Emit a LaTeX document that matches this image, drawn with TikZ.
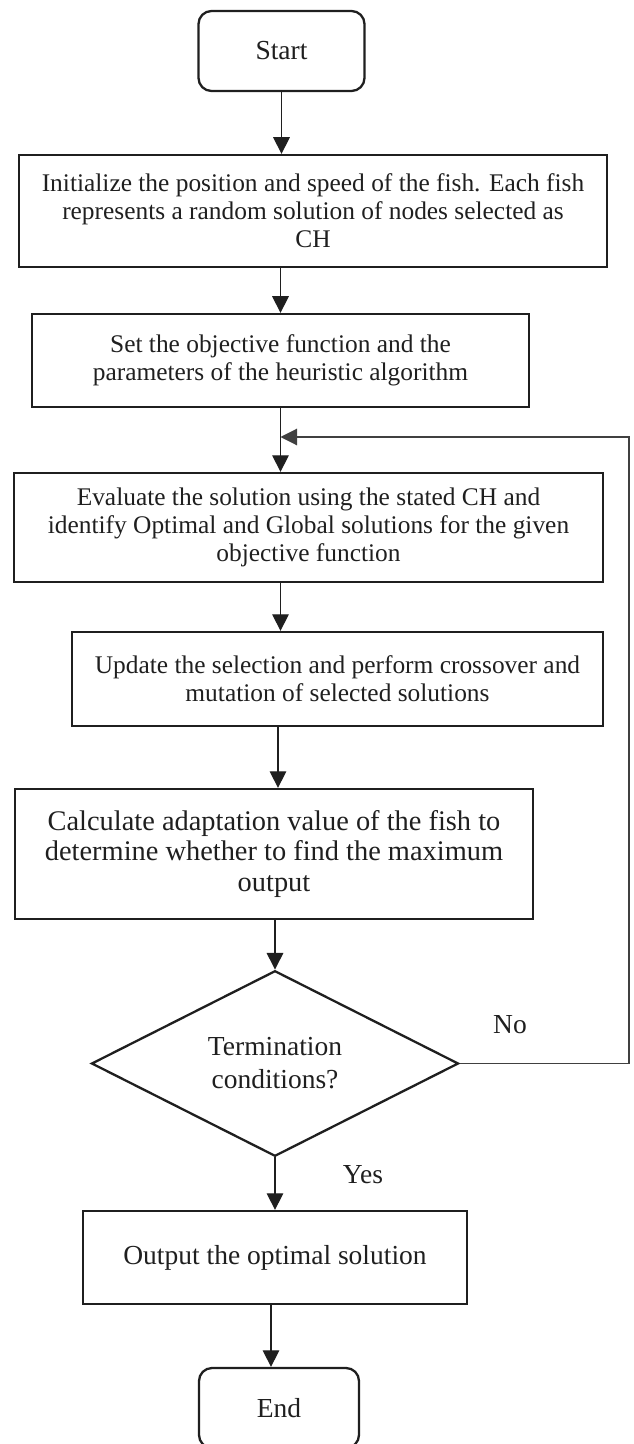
\documentclass[tikz,border=0pt]{standalone}
\usepackage{fontspec}
\setmainfont{Liberation Serif}
\usetikzlibrary{arrows.meta,shapes.geometric}
\begin{document}
\begin{tikzpicture}[x=0.5pt,y=-0.5pt,
  box/.style={draw=black!88, line width=1.15pt, align=center, inner sep=0pt, text=black!88},
  term/.style={box, rounded corners=6.5pt},
  arr/.style={draw=black!88, line width=0.65pt, -{Triangle[length=8.3pt,width=8.3pt]}},
  fbline/.style={draw=black!75, line width=0.55pt},
  sfont/.style={font=\fontsize{12.7}{14}\selectfont},
  bfont/.style={font=\fontsize{13.75}{15}\selectfont},
  lbl/.style={text=black!88, inner sep=0pt, font=\fontsize{13.75}{15}\selectfont},
]
\useasboundingbox (0,0) rectangle (633,1444);

\node[term,bfont,minimum width=83pt,minimum height=40pt] (start) at (281.5,51) {Start};

\node[box,sfont,minimum width=294pt,minimum height=56pt] (init) at (313,211)
  {Initialize the position and speed of the fish. Each fish\\represents a random solution of nodes selected as\\CH};

\node[box,sfont,minimum width=248.5pt,minimum height=46.5pt] (setobj) at (280.5,360.5)
  {Set the objective function and the\\parameters of the heuristic algorithm};

\node[box,sfont,minimum width=294.5pt,minimum height=54.5pt] (eval) at (308.5,527.5)
  {Evaluate the solution using the stated CH and\\identify Optimal and Global solutions for the given\\objective function};

\node[box,sfont,minimum width=265.5pt,minimum height=47pt] (upd) at (337.5,679)
  {Update the selection and perform crossover and\\mutation of selected solutions};

\node[box,font=\fontsize{14.2}{15.2}\selectfont,minimum width=259pt,minimum height=65pt] (calc) at (274,854)
  {Calculate adaptation value of the fish to\\determine whether to find the maximum\\output};

\node[box,shape=diamond,font=\fontsize{13.75}{16.5}\selectfont,minimum width=183.5pt,minimum height=83.5pt] (dia) at (275,1063.5)
  {Termination\\conditions?};

\node[box,bfont,minimum width=192pt,minimum height=46.5pt] (out) at (275,1257.5)
  {Output the optimal solution};

\node[term,bfont,minimum width=80pt,minimum height=40pt] (end) at (279,1408) {End};

\node[lbl] (no) at (510,1025) {No};
\node[lbl] (yes) at (363,1175) {Yes};

\coordinate (fb) at (629,437);
\coordinate (join) at (280.5,437);

\draw[arr] (start) -- (start |- init.north);
\draw[arr] (setobj.north |- init.south) -- (setobj);
\draw[arr] (setobj) -- (setobj |- eval.north);
\draw[fbline, -{Triangle[length=8.3pt,width=8.3pt]}] (dia.east) -- (dia.east -| fb) -- (fb) -- (join);
\draw[arr] (eval.south -| setobj) -- (upd.north -| setobj);
\draw[arr] ([xshift=2pt]upd.south -| calc) -- ([xshift=2pt]calc.north);
\draw[arr] (calc.south -| dia) -- (dia);
\draw[arr] (dia) -- (out);
\draw[arr] ([xshift=-2pt]out.south) -- ([xshift=-2pt]out.south |- end.north);
\end{tikzpicture}
\end{document}
